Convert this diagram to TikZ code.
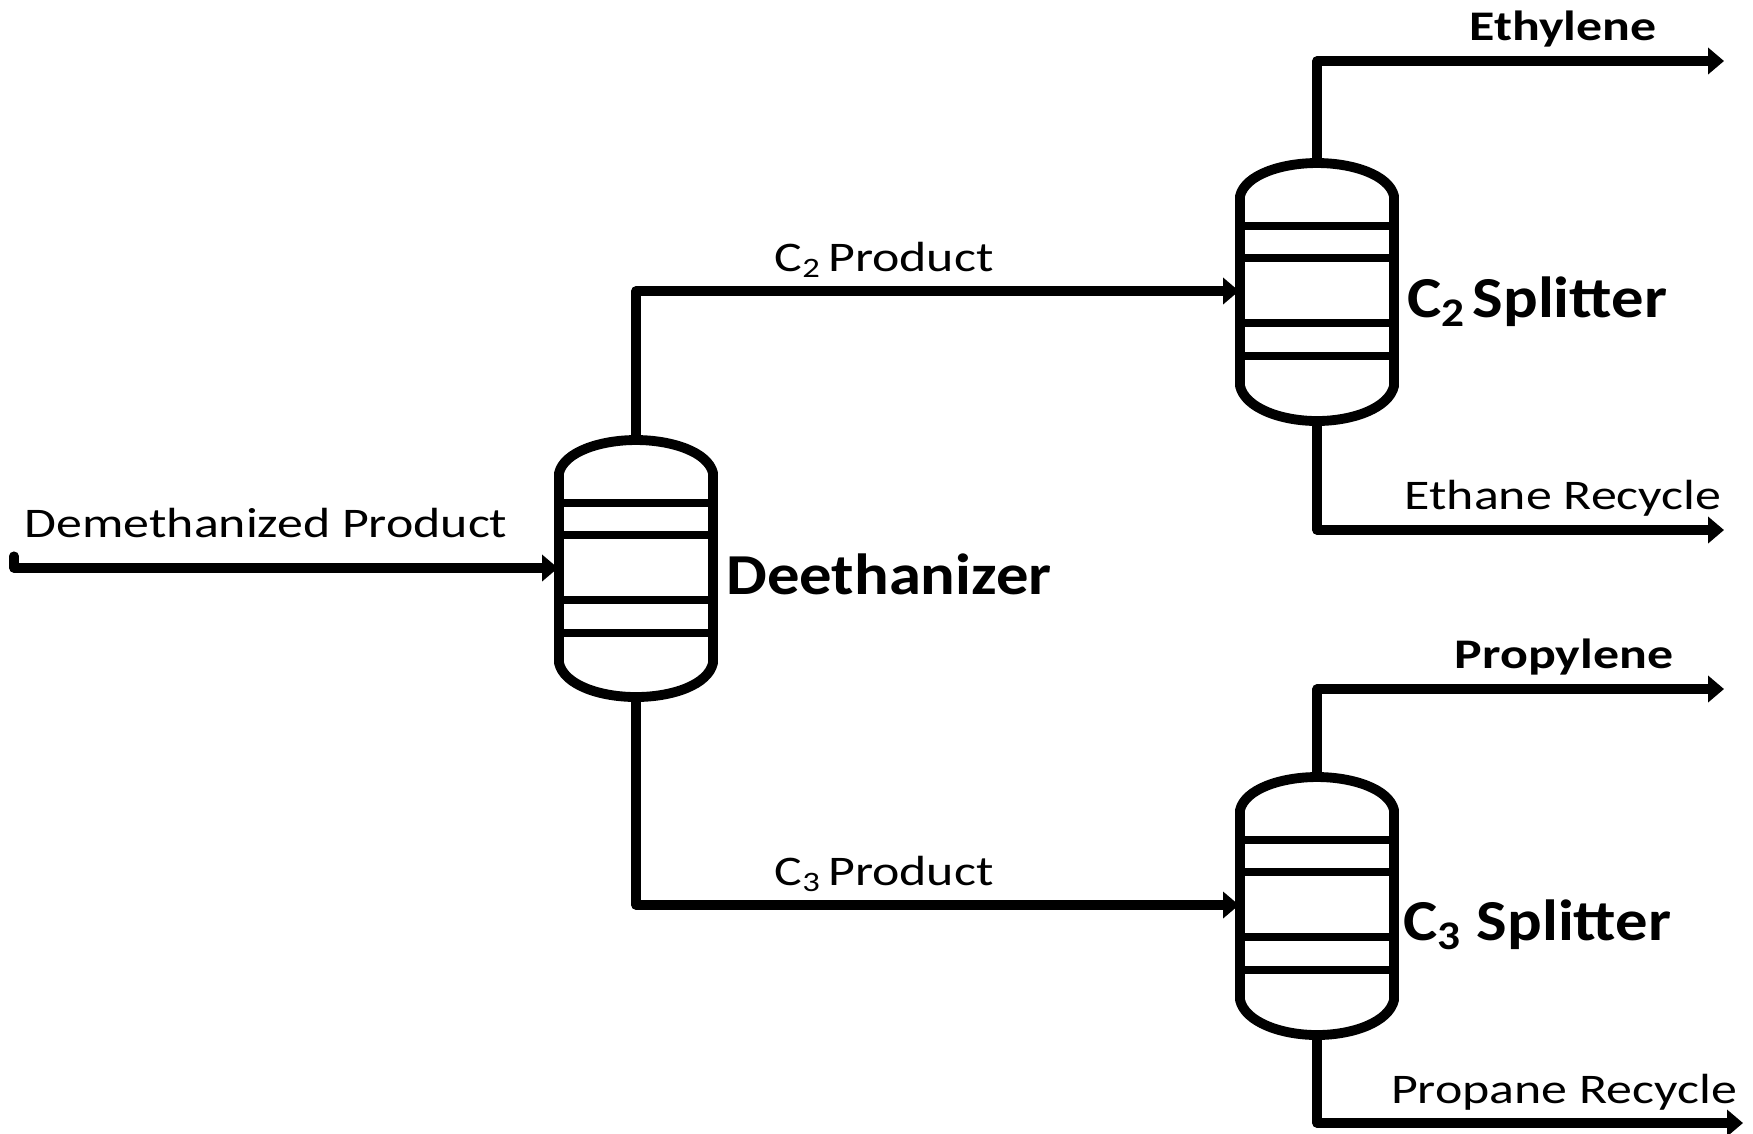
\documentclass[tikz,border=0pt]{standalone}
\usepackage{fontspec}
\setmainfont{Carlito}
\usepackage{tikz}
\usetikzlibrary{arrows.meta}
\tikzset{
  stream/.style={line width=2.6pt, line join=round, -{Triangle[length=1.6mm, width=2.6mm]}},
  wall/.style={line width=2.8pt, line join=round},
  tray/.style={line width=2.5pt},
  streamlabel/.style={anchor=base, inner sep=0pt, font=\fontsize{12}{12}\selectfont, xscale=1.23, transform shape},
  productlabel/.style={streamlabel, font=\fontsize{12}{12}\bfseries\selectfont},
  columnlabel/.style={anchor=base, inner sep=0pt, font=\fontsize{16.5}{16.5}\bfseries\selectfont, xscale=1.115, transform shape},
}
\begin{document}
\begin{tikzpicture}
    \useasboundingbox (0,0) rectangle (17.53,-11.33);
    % Deethanizer
    \begin{scope}[shift={(6.36,-5.68)}]
      \draw [wall] (-0.77,0.95) .. controls (-0.72,1.16) and (-0.36,1.28) .. (0,1.28)
        .. controls (0.36,1.28) and (0.72,1.16) .. (0.77,0.95) -- (0.77,-0.95)
        .. controls (0.72,-1.17) and (0.36,-1.29) .. (0,-1.29)
        .. controls (-0.36,-1.29) and (-0.72,-1.17) .. (-0.77,-0.95) -- cycle;
      \foreach \y in {0.65,0.33,-0.32,-0.65}
        \draw [tray] (-0.77,\y) -- (0.77,\y);
      \coordinate (deethTop) at (0,1.28);
      \coordinate (deethBot) at (0,-1.29);
      \coordinate (deethIn) at (-0.78,0);
    \end{scope}
    % C2 splitter
    \begin{scope}[shift={(13.17,-2.91)}]
      \draw [wall] (-0.77,0.95) .. controls (-0.72,1.16) and (-0.36,1.28) .. (0,1.28)
        .. controls (0.36,1.28) and (0.72,1.16) .. (0.77,0.95) -- (0.77,-0.95)
        .. controls (0.72,-1.17) and (0.36,-1.30) .. (0,-1.30)
        .. controls (-0.36,-1.30) and (-0.72,-1.17) .. (-0.77,-0.95) -- cycle;
      \foreach \y in {0.65,0.33,-0.32,-0.65}
        \draw [tray] (-0.77,\y) -- (0.77,\y);
      \coordinate (ctwoTop) at (0,1.28);
      \coordinate (ctwoBot) at (0,-1.30);
      \coordinate (ctwoIn) at (-0.78,0);
    \end{scope}
    % C3 splitter
    \begin{scope}[shift={(13.17,-9.05)}]
      \draw [wall] (-0.77,0.95) .. controls (-0.72,1.16) and (-0.36,1.28) .. (0,1.28)
        .. controls (0.36,1.28) and (0.72,1.16) .. (0.77,0.95) -- (0.77,-0.95)
        .. controls (0.72,-1.17) and (0.36,-1.30) .. (0,-1.30)
        .. controls (-0.36,-1.30) and (-0.72,-1.17) .. (-0.77,-0.95) -- cycle;
      \foreach \y in {0.65,0.33,-0.32,-0.65}
        \draw [tray] (-0.77,\y) -- (0.77,\y);
      \coordinate (cthreeTop) at (0,1.28);
      \coordinate (cthreeBot) at (0,-1.30);
      \coordinate (cthreeIn) at (-0.78,0);
    \end{scope}
    % Stream ends
    \coordinate (feedNotch) at (0.14,-5.56);
    \coordinate (feedStart) at (0.14,-5.68);
    \coordinate (ethyleneEnd) at (17.24,-0.61);
    \coordinate (ethaneEnd) at (17.24,-5.30);
    \coordinate (propyleneEnd) at (17.24,-6.89);
    \coordinate (propaneEnd) at (17.43,-11.23);
    % Streams
    \draw [stream, line cap=round] (feedNotch) -- (feedStart) -- (deethIn);
    \draw [stream] (deethTop) |- (ctwoIn);
    \draw [stream] (deethBot) |- (cthreeIn);
    \draw [stream] (ctwoTop) |- (ethyleneEnd);
    \draw [stream] (ctwoBot) |- (ethaneEnd);
    \draw [stream] (cthreeTop) |- (propyleneEnd);
    \draw [stream] (cthreeBot) |- (propaneEnd);
    % Labels
    \node [streamlabel] (feedLabel) at (2.66,-5.37) {Demethanized Product};
    \node [columnlabel] (deethLabel) at (8.89,-5.94) {Deethanizer};
    \node [streamlabel] (ctwoProduct) at (8.84,-2.71) {C\textsubscript{2}\hspace{0.12em}Product};
    \node [streamlabel] (cthreeProduct) at (8.84,-8.85) {C\textsubscript{3}\hspace{0.12em}Product};
    \node [columnlabel] (ctwoLabel) at (15.37,-3.17) {C\textsubscript{2}\hspace{0.1em}Splitter};
    \node [columnlabel] (cthreeLabel) at (15.37,-9.40) {C\textsubscript{3} Splitter};
    \node [productlabel] (ethyleneLabel) at (15.63,-0.40) {Ethylene};
    \node [streamlabel] (ethaneLabel) at (15.63,-5.09) {Ethane Recycle};
    \node [productlabel] (propyleneLabel) at (15.64,-6.68) {Propylene};
    \node [streamlabel] (propaneLabel) at (15.64,-11.03) {Propane Recycle};
\end{tikzpicture}
\end{document}
